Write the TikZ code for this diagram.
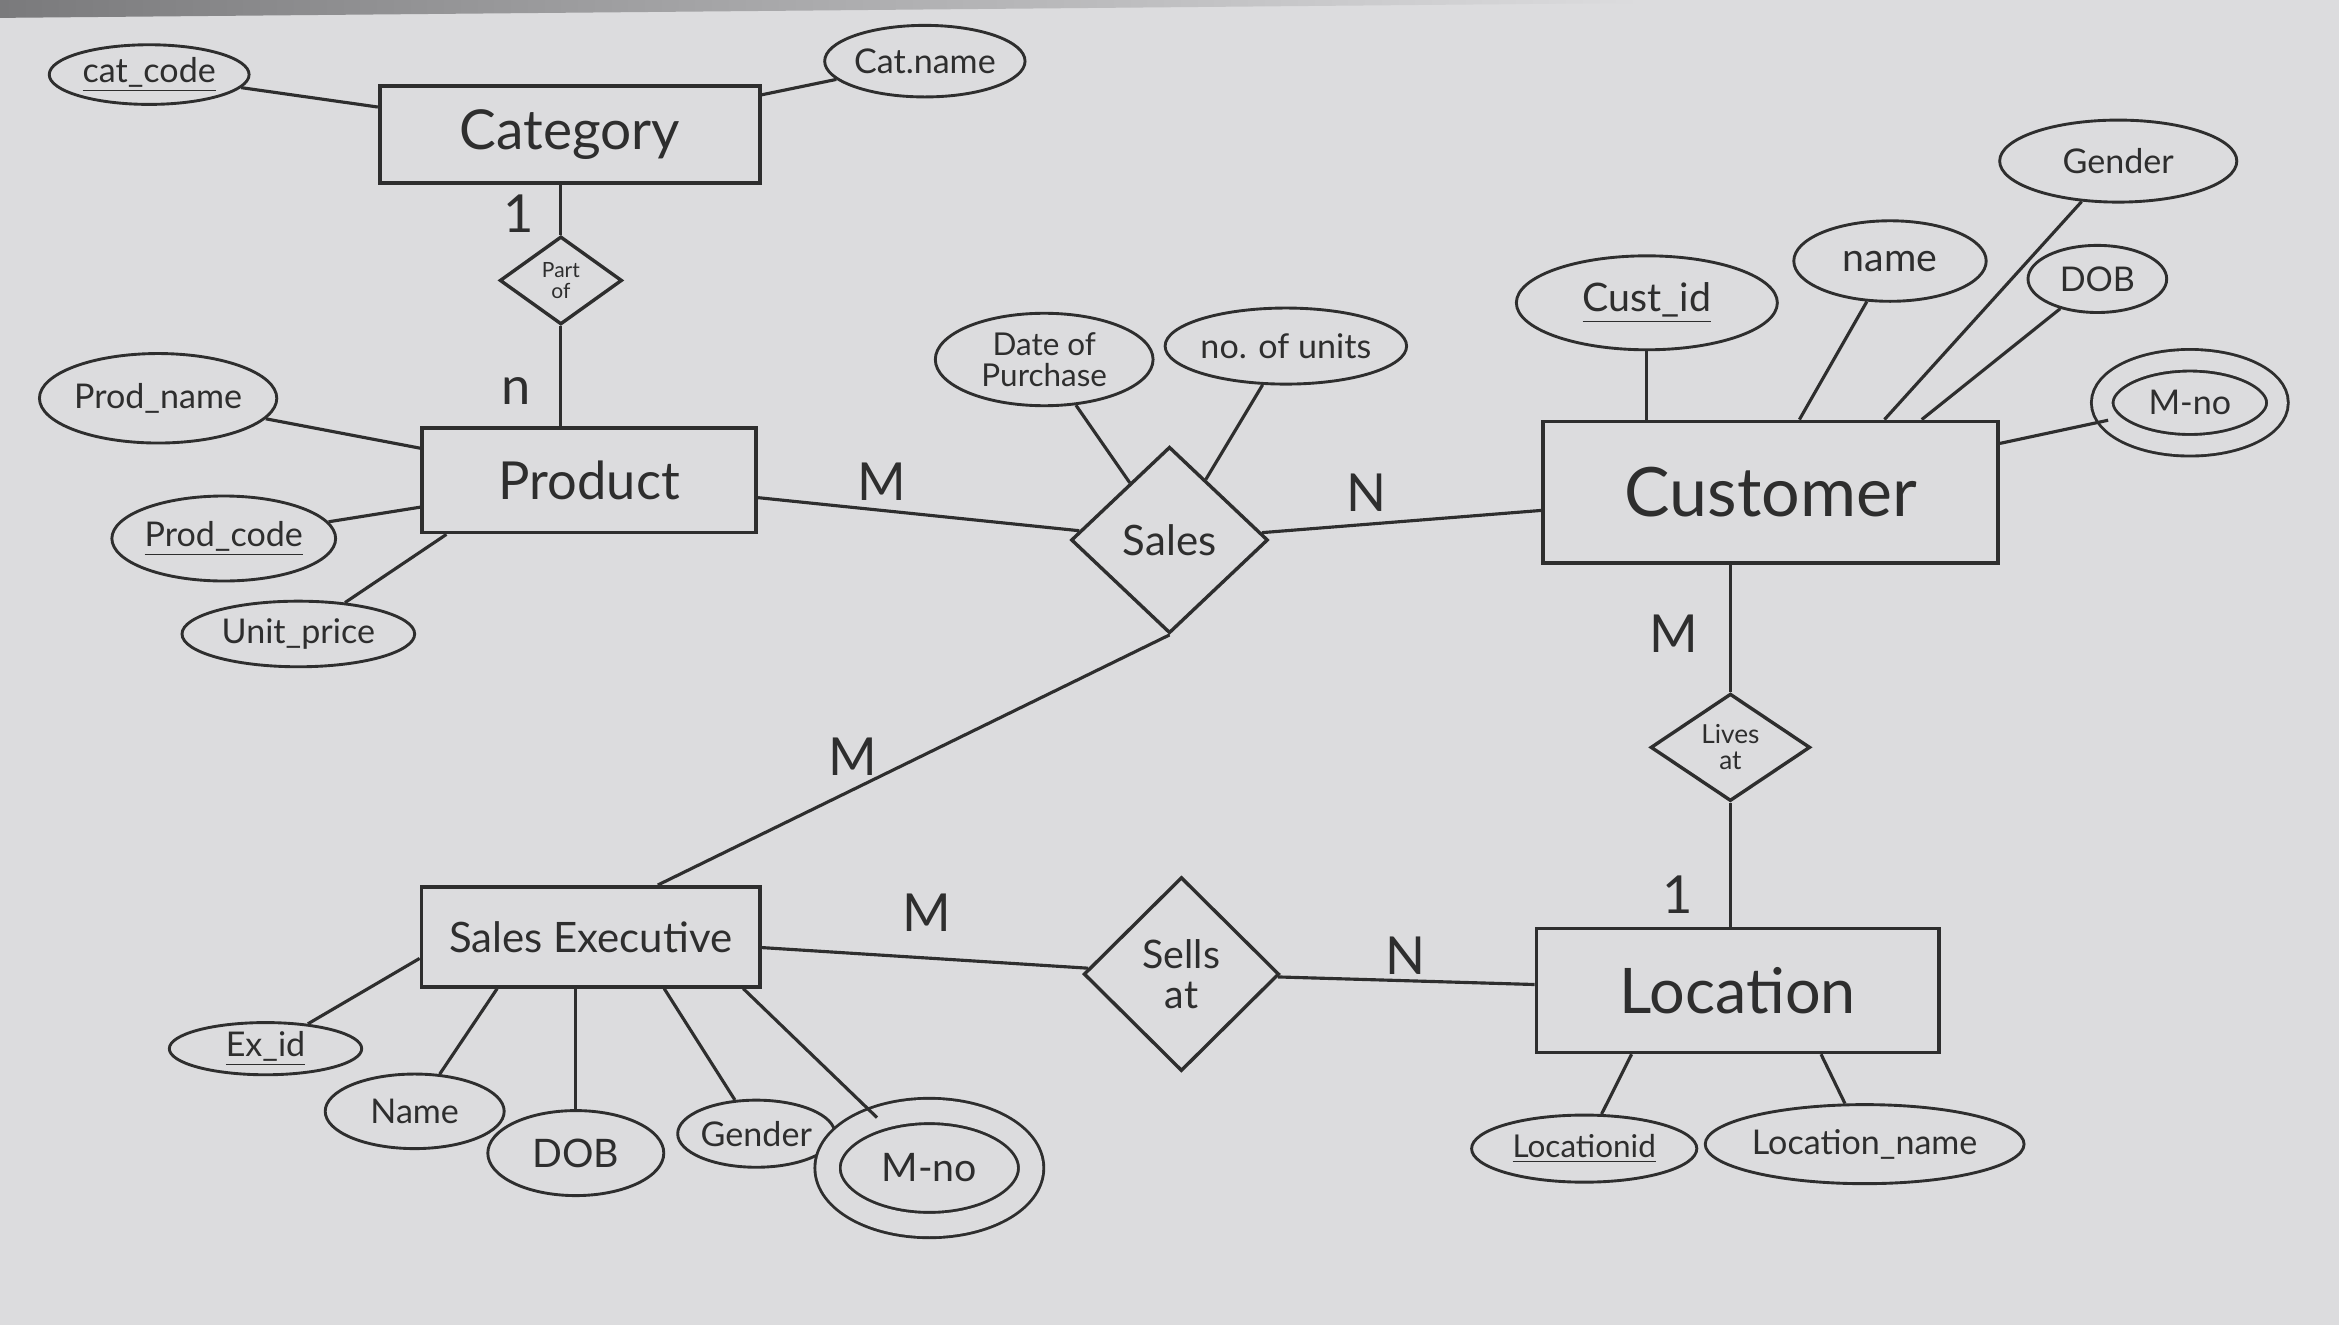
\documentclass[tikz,border=0pt]{standalone}
\usepackage{fontspec}
\setmainfont{Lato}
\usetikzlibrary{shapes.geometric}
\definecolor{paper}{HTML}{DCDCDE}
\definecolor{ink}{HTML}{2E2E2E}
\definecolor{shadow}{HTML}{7A7A7C}
\newcommand{\fs}[1]{\fontsize{#1}{#1}\selectfont}
\begin{document}
\begin{tikzpicture}[x=0.02cm,y=-0.02cm,
  entity/.style={draw=ink, line width=1.4pt, rectangle, inner sep=0pt, text=ink},
  attr/.style={draw=ink, line width=1.1pt, ellipse, inner sep=0pt, text=ink, font=\fs{13}, align=center},
  multi/.style={attr, double=paper, double distance=#1},
  rel/.style={draw=ink, line width=1.3pt, diamond, inner sep=0pt, text=ink, align=center},
  card/.style={text=ink, font=\fs{20}},
  conn/.style={draw=ink, line width=1.2pt}]
\fill[paper] (0,0) rectangle (1568,888);
\shade[left color=shadow, right color=paper] (0,0) -- (1100,0) -- (1100,2) -- (0,12) -- cycle;
\useasboundingbox (0,0) rectangle (1568,888);

% entities
\node[entity, minimum width=5.1cm, minimum height=1.3cm, font=\fs{21}] (cat) at (382,90) {Category};
\node[entity, minimum width=4.48cm, minimum height=1.4cm, font=\fs{20}] (prod) at (395,322) {Product};
\node[entity, minimum width=6.1cm, minimum height=1.9cm, font=\fs{26}] (cust) at (1187,330) {Customer};
\node[entity, minimum width=5.4cm, minimum height=1.66cm, font=\fs{24}] (loc) at (1165,664) {Location};
\node[entity, minimum width=4.54cm, minimum height=1.34cm, font=\fs{16}] (sexec) at (396,628) {Sales Executive};

% relationships
\node[rel, minimum width=1.64cm, minimum height=1.18cm, font=\fs{8}] (partof) at (376,188) {Part\\of};
\node[rel, minimum width=2.64cm, minimum height=2.5cm, font=\fs{16}] (sales) at (784,362) {Sales};
\node[rel, minimum width=2.14cm, minimum height=1.44cm, font=\fs{10}] (livesat) at (1160,501) {Lives\\at};
\node[rel, minimum width=2.62cm, minimum height=2.6cm, font=\fs{15}] (sellsat) at (792,653) {Sells\\at};

% attributes
\node[attr, minimum width=2.68cm, minimum height=0.8cm] (catcode) at (100,50) {\underline{cat\_code}};
\node[attr, minimum width=2.62cm, minimum height=0.96cm] (catname) at (620,41) {Cat.name};
\node[attr, minimum width=3.14cm, minimum height=1.2cm] (prodname) at (106,267) {Prod\_name};
\node[attr, minimum width=2.7cm, minimum height=1.14cm] (prodcode) at (150,361) {\underline{Prod\_code}};
\node[attr, minimum width=3.12cm, minimum height=0.88cm] (unitprice) at (200,425) {Unit\_price};
\node[attr, minimum width=2.92cm, minimum height=1.24cm, font=\fs{12}] (dop) at (700,241) {Date of\\Purchase};
\node[attr, minimum width=2.82cm, minimum height=1.02cm] (units) at (862,232) {no. of units};
\node[attr, minimum width=3.5cm, minimum height=1.26cm, font=\fs{15}] (custid) at (1104,203) {\underline{Cust\_id}};
\node[attr, minimum width=2.58cm, minimum height=1.08cm, font=\fs{15}] (cname) at (1267,175) {name};
\node[attr, minimum width=3.18cm, minimum height=1.1cm] (cgender) at (1420,108) {Gender};
\node[attr, minimum width=1.86cm, minimum height=0.9cm] (cdob) at (1406,187) {DOB};
\node[multi=0.25cm, minimum width=2.35cm, minimum height=1.14cm] (cmno) at (1468,270) {M-no};
\node[attr, minimum width=3.02cm, minimum height=0.9cm, font=\fs{12}] (locid) at (1062,770) {\underline{Locationid}};
\node[attr, minimum width=3.52cm, minimum height=1.06cm] (locname) at (1250,767) {Location\_name};
\node[attr, minimum width=2.58cm, minimum height=0.7cm] (exid) at (178,703) {\underline{Ex\_id}};
\node[attr, minimum width=2.4cm, minimum height=1.0cm] (ename) at (278,745) {Name};
\node[attr, minimum width=2.36cm, minimum height=1.14cm, font=\fs{15}] (edob) at (386,773) {DOB};
\node[attr, minimum width=2.06cm, minimum height=0.9cm] (egender) at (507,760) {Gender};
\node[multi=0.3cm, minimum width=2.73cm, minimum height=1.53cm, font=\fs{15}] (emno) at (623,783) {M-no};

% relationship connectors
\draw[conn] (partof.north |- cat.south) -- (partof.north);
\draw[conn] (partof.south) -- (partof.south |- prod.north);
\draw[conn] (prod) -- (sales);
\draw[conn] (sales) -- (cust);
\draw[conn] (sales.south) -- ([xshift=0.9cm]sexec.north);
\draw[conn] (livesat.north |- cust.south) -- (livesat.north);
\draw[conn] (livesat.south) -- (livesat.south |- loc.north);
\draw[conn] (sexec) -- (sellsat);
\draw[conn] (sellsat) -- (loc);

% attribute connectors
\draw[conn] (catcode) -- (cat);
\draw[conn] (catname) -- (cat);
\draw[conn] (prodname) -- (prod);
\draw[conn] (prodcode) -- (prod);
\draw[conn] (unitprice) -- ([xshift=0.35cm]prod.south west);
\draw[conn] (dop) -- (sales);
\draw[conn] (units) -- (sales);
\draw[conn] (custid) -- (custid |- cust.north);
\draw[conn] (cname) -- ([xshift=3.46cm]cust.north west);
\draw[conn] (cgender) -- ([xshift=4.6cm]cust.north west);
\draw[conn] (cdob) -- ([xshift=5.1cm]cust.north west);
\draw[conn] (cmno) -- (cust);
\draw[conn] (locid) -- ([xshift=1.3cm]loc.south west);
\draw[conn] (locname) -- ([xshift=3.84cm]loc.south west);
\draw[conn] (exid) -- ([yshift=-0.29cm]sexec.west);
\draw[conn] (ename) -- ([xshift=1.04cm]sexec.south west);
\draw[conn] (edob) -- (edob |- sexec.south);
\draw[conn] (egender) -- ([xshift=3.28cm]sexec.south west);
\draw[conn] (emno) -- ([xshift=4.34cm]sexec.south west);

% cardinalities
\node[card] (c1) at (348,143) {1};
\node[card] (c2) at (346,262) {n};
\node[card] (c3) at (591,323) {M};
\node[card] (c4) at (916,330) {N};
\node[card] (c5) at (572,507) {M};
\node[card] (c6) at (1122,425) {M};
\node[card] (c7) at (1125,600) {1};
\node[card] (c8) at (621,612) {M};
\node[card] (c9) at (942,641) {N};
\end{tikzpicture}
\end{document}
